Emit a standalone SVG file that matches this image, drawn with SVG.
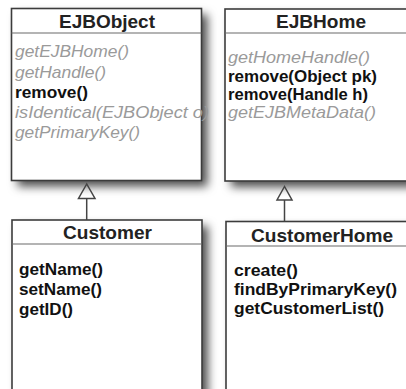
<svg xmlns="http://www.w3.org/2000/svg" width="406" height="389" viewBox="0 0 406 389">
<defs>
<filter id="sh" x="-20%" y="-20%" width="150%" height="150%">
<feGaussianBlur in="SourceAlpha" stdDeviation="5"/>
<feOffset dx="6" dy="6" result="b"/>
<feFlood flood-color="#000" flood-opacity="0.7"/>
<feComposite in2="b" operator="in"/>
</filter>
</defs>
<style>
.box{fill:#fff;stroke:#3c3c3c;stroke-width:1.6}
.sep{stroke:#6a6a6a;stroke-width:1.2}
.title{font-family:"Liberation Sans",Arial,sans-serif;font-weight:bold;font-size:18.5px;fill:#222}
.m{font-family:"Liberation Sans",Arial,sans-serif;font-size:16.5px}
.i{font-style:italic;fill:#9a9a9a}
.b{font-weight:bold;fill:#111}
.conn{stroke:#444;stroke-width:1.5;fill:none}
</style>
<rect width="406" height="389" fill="#fff"/>
<g id="shadows" filter="url(#sh)">
<rect x="11.5" y="8.5" width="190" height="172" fill="#000"/>
<rect x="225" y="9" width="200" height="172" fill="#000"/>
<rect x="12" y="220" width="190" height="190" fill="#000"/>
<rect x="226" y="221.5" width="200" height="190" fill="#000"/>
</g>
<g id="EJBObject">
<rect class="box" x="11.5" y="8.5" width="190" height="172"/>
<line class="sep" x1="11.5" y1="33" x2="201.5" y2="33"/>
<text class="title" x="59" y="28" textLength="96" lengthAdjust="spacingAndGlyphs">EJBObject</text>
<text class="m i" x="15" y="57" textLength="114" lengthAdjust="spacingAndGlyphs">getEJBHome()</text>
<text class="m i" x="15" y="77.5" textLength="91" lengthAdjust="spacingAndGlyphs">getHandle()</text>
<text class="m b" x="15" y="98" textLength="73" lengthAdjust="spacingAndGlyphs">remove()</text>
<text class="m i" x="15" y="118" textLength="194" lengthAdjust="spacingAndGlyphs">isIdentical(EJBObject o)</text>
<text class="m i" x="15" y="137.5" textLength="125" lengthAdjust="spacingAndGlyphs">getPrimaryKey()</text>
</g>
<g id="EJBHome">
<rect class="box" x="225" y="9" width="200" height="172"/>
<line class="sep" x1="225" y1="33" x2="406" y2="33"/>
<text class="title" x="276" y="28" textLength="90" lengthAdjust="spacingAndGlyphs">EJBHome</text>
<text class="m i" x="228" y="62.5" textLength="142" lengthAdjust="spacingAndGlyphs">getHomeHandle()</text>
<text class="m b" x="228" y="81.5" textLength="149" lengthAdjust="spacingAndGlyphs">remove(Object pk)</text>
<text class="m b" x="228" y="100" textLength="140" lengthAdjust="spacingAndGlyphs">remove(Handle h)</text>
<text class="m i" x="228" y="118" textLength="148" lengthAdjust="spacingAndGlyphs">getEJBMetaData()</text>
</g>
<g id="Customer">
<rect class="box" x="12" y="220" width="190" height="190"/>
<line class="sep" x1="12" y1="244" x2="202" y2="244"/>
<text class="title" x="63" y="239" textLength="89" lengthAdjust="spacingAndGlyphs">Customer</text>
<text class="m b" x="19" y="275" textLength="84" lengthAdjust="spacingAndGlyphs">getName()</text>
<text class="m b" x="19" y="295" textLength="83" lengthAdjust="spacingAndGlyphs">setName()</text>
<text class="m b" x="19" y="314.5" textLength="54" lengthAdjust="spacingAndGlyphs">getID()</text>
</g>
<g id="CustomerHome">
<rect class="box" x="226" y="221.5" width="200" height="190"/>
<line class="sep" x1="226" y1="246" x2="406" y2="246"/>
<text class="title" x="251" y="241.5" textLength="142" lengthAdjust="spacingAndGlyphs">CustomerHome</text>
<text class="m b" x="234" y="275.5" textLength="64" lengthAdjust="spacingAndGlyphs">create()</text>
<text class="m b" x="234" y="295" textLength="163" lengthAdjust="spacingAndGlyphs">findByPrimaryKey()</text>
<text class="m b" x="234" y="314" textLength="150" lengthAdjust="spacingAndGlyphs">getCustomerList()</text>
</g>
<g id="connectors">
<line class="conn" x1="86.7" y1="198.5" x2="86.7" y2="220"/>
<polygon class="conn" points="86.7,184 78.5,198.5 95,198.5"/>
<line class="conn" x1="284.5" y1="200" x2="284.5" y2="221.5"/>
<polygon class="conn" points="284.5,186.5 277,200 292,200"/>
</g>
</svg>
